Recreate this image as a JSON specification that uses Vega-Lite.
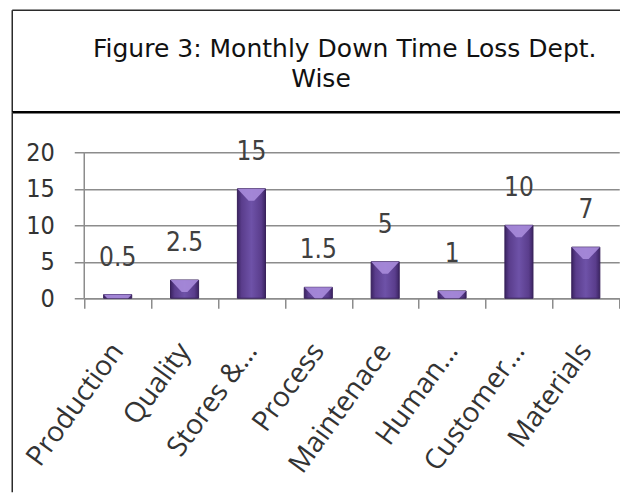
{
  "$schema": "https://vega.github.io/schema/vega-lite/v6.json",
  "padding": {"left": 10.25, "top": 9.25, "right": 0, "bottom": 0},
  "config": {"view": {"stroke": null}},
  "spacing": 0,
  "bounds": "flush",
  "vconcat": [
    {
      "width": 609,
      "height": 102,
      "data": {"values": [{"line1": "Figure 3: Monthly Down Time Loss Dept.", "line2": "Wise"}]},
      "layer": [
        {
          "mark": {"type": "rule", "color": "#2b2b2b", "strokeWidth": 1.5},
          "encoding": {"x": {"datum": 0, "type": "quantitative", "scale": {"domain": [0, 1]}, "axis": null}}
        },
        {
          "mark": {"type": "rule", "color": "#2b2b2b", "strokeWidth": 1.5},
          "encoding": {"y": {"datum": 1, "type": "quantitative", "scale": {"domain": [0, 1]}, "axis": null}}
        },
        {
          "mark": {"type": "rule", "color": "#000000", "strokeWidth": 2.5},
          "encoding": {"y": {"datum": 0, "type": "quantitative", "axis": null}}
        },
        {
          "mark": {"type": "text", "font": "DejaVu Sans", "fontSize": 25, "align": "center", "baseline": "alphabetic", "color": "#111111"},
          "encoding": {
            "x": {"datum": 0.546, "type": "quantitative", "axis": null},
            "y": {"datum": 0.539, "type": "quantitative", "axis": null},
            "text": {"field": "line1"}
          }
        },
        {
          "mark": {"type": "text", "font": "DejaVu Sans", "fontSize": 25, "align": "center", "baseline": "alphabetic", "color": "#111111"},
          "encoding": {
            "x": {"datum": 0.507, "type": "quantitative", "axis": null},
            "y": {"datum": 0.245, "type": "quantitative", "axis": null},
            "text": {"field": "line2"}
          }
        }
      ]
    },
    {
      "spacing": 71,
      "bounds": "flush",
      "hconcat": [
        {
          "width": 1,
          "height": 380,
          "data": {"values": [{}]},
          "mark": {"type": "rule", "color": "#2b2b2b", "strokeWidth": 1.5},
          "encoding": {"x": {"datum": 0, "type": "quantitative", "scale": {"domain": [0, 1]}, "axis": null}}
        },
        {
          "width": 535,
          "height": 186,
          "data": {"values": [
            {"dept": "Production", "loss": 0.5},
            {"dept": "Quality", "loss": 2.5},
            {"dept": "Stores &…", "loss": 15},
            {"dept": "Process", "loss": 1.5},
            {"dept": "Maintenace", "loss": 5},
            {"dept": "Human…", "loss": 1},
            {"dept": "Customer…", "loss": 10},
            {"dept": "Materials", "loss": 7}
          ]},
          "encoding": {
            "x": {
              "field": "dept", "type": "nominal", "sort": null,
              "scale": {"paddingInner": 0, "paddingOuter": 0},
              "axis": {
                "title": null, "domain": true, "domainColor": "#8c8c8c", "domainWidth": 1.5,
                "ticks": true, "tickBand": "extent", "tickSize": 10, "tickColor": "#8c8c8c", "tickWidth": 1.5,
                "labelAngle": -54, "labelAlign": "right", "labelBaseline": "middle", "labelPadding": 38,
                "labelFont": "Open Sans", "labelFontSize": 28, "labelColor": "#333333", "labelLimit": 400, "labelOverlap": false,
                "grid": false
              }
            }
          },
          "layer": [
            {
              "mark": {
                "type": "bar",
                "width": {"band": 0.42},
                "color": {"gradient": "linear", "x1": 0, "y1": 0, "x2": 1, "y2": 0,
                  "stops": [
                    {"offset": 0, "color": "#3b2462"},
                    {"offset": 0.15, "color": "#5a3d8c"},
                    {"offset": 0.5, "color": "#6e52a8"},
                    {"offset": 0.85, "color": "#5a3d8c"},
                    {"offset": 1, "color": "#3b2462"}
                  ]},
                "stroke": "#37205a",
                "strokeWidth": 1
              },
              "encoding": {
                "y": {
                  "field": "loss", "type": "quantitative",
                  "scale": {"domain": [0, 25.48], "nice": false},
                  "axis": {
                    "title": null, "values": [0, 5, 10, 15, 20], "domain": false,
                    "grid": true, "gridColor": "#8c8c8c", "gridWidth": 1.5,
                    "ticks": true, "tickSize": 10, "tickColor": "#8c8c8c", "tickWidth": 1.5,
                    "labelPadding": 20, "labelFont": "DejaVu Sans Condensed, sans-serif",
                    "labelFontSize": 25, "labelColor": "#333333"
                  }
                }
              }
            },
            {
              "data": {"values": [{}]},
              "mark": {"type": "rule", "color": "#8c8c8c", "strokeWidth": 1.5},
              "encoding": {
                "x": {"datum": "Production", "bandPosition": 0, "title": null},
                "y": {"datum": 0, "type": "quantitative", "title": null},
                "y2": {"datum": 20}
              }
            },
            {
              "mark": {"type": "point", "shape": "M -1 0 L 1 0 L 0.2 0.85 L -0.2 0.85 Z", "size": 784, "filled": true, "color": "#a88cdb", "opacity": 0.9, "clip": true},
              "encoding": {"y": {"field": "loss", "type": "quantitative"}}
            },
            {
              "mark": {"type": "text", "dy": -37, "baseline": "middle", "font": "DejaVu Sans Condensed, sans-serif", "fontSize": 26, "color": "#404040"},
              "encoding": {
                "y": {"field": "loss", "type": "quantitative"},
                "text": {"field": "loss", "type": "quantitative"}
              }
            }
          ]
        }
      ]
    }
  ]
}
